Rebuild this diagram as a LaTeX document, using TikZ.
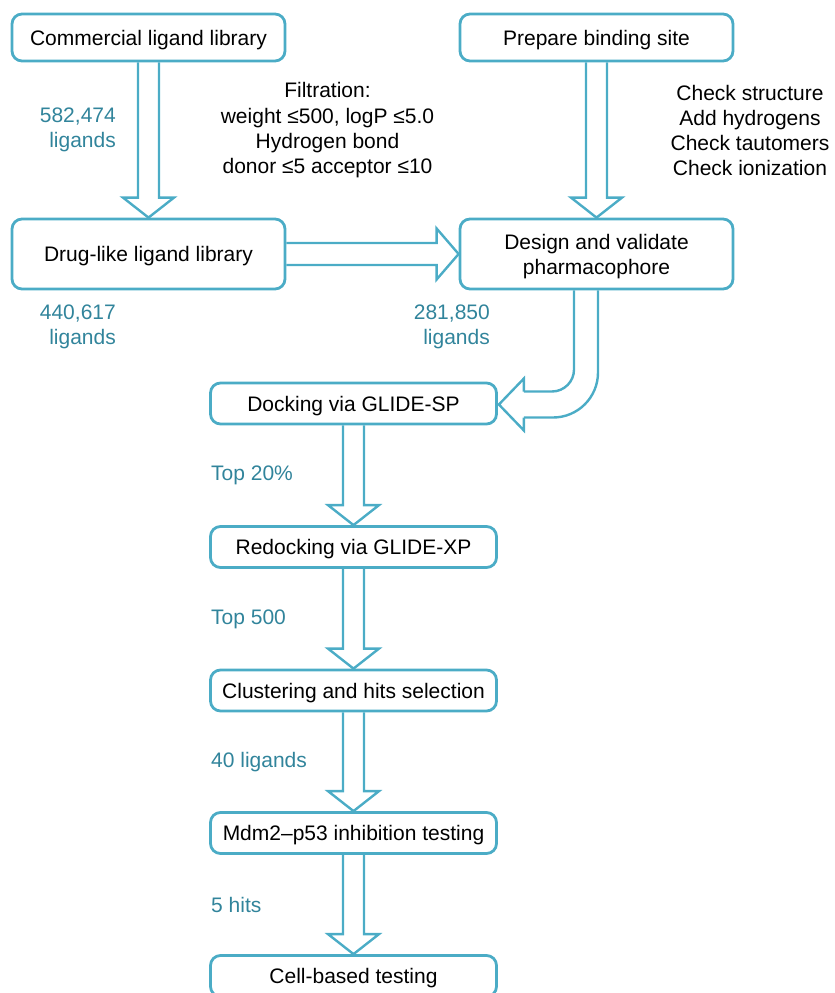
\documentclass[tikz,border=0pt]{standalone}
\usepackage{fontspec}
\setmainfont{Liberation Sans}
\usetikzlibrary{calc}

\definecolor{boxblue}{RGB}{75,172,198}
\definecolor{labelteal}{RGB}{49,132,155}

\newcommand{\hollowdown}[2]{%
  \draw[flow line] ($(#1.south)+(-10.5,0)$) -- ($(#1.south |- #2.north)+(-10.5,-20)$)
    -- ++(-15,0) -- (#1.south |- #2.north) -- ($(#1.south |- #2.north)+(25.5,-20)$)
    -- ++(-15,0) -- ($(#1.south)+(10.5,0)$);}

\begin{document}
\begin{tikzpicture}[x=1pt,y=-1pt,font=\fontsize{21}{25.3}\selectfont,
                    main box/.style={draw=boxblue,line width=2.8pt,rounded corners=10pt,
                      align=center,inner sep=0pt,minimum width=273pt,minimum height=47pt,
                      text height=15pt,text depth=0pt},
                    step box/.style={main box,minimum width=286pt,minimum height=41pt},
                    flow line/.style={draw=boxblue,line width=2.4pt},
                    count/.style={text=labelteal,align=right,inner sep=0pt},
                    note/.style={align=center,inner sep=0pt}]
  \useasboundingbox (0,0) rectangle (835,993);

  \node[main box] (commercial) at (148.5,37.5) {Commercial ligand library};
  \node[main box] (prepare) at (596.5,37.5) {Prepare binding site};
  \node[main box,minimum height=70pt] (druglike) at (148.5,254) {Drug-like ligand library};
  \node[main box,minimum height=70pt,text height=,text depth=] (pharma) at (596.5,254)
    {\raisebox{-3pt}[\height][\depth]{\begin{tabular}{@{}c@{}}Design and validate\\pharmacophore\end{tabular}}};
  \node[step box] (glidesp) at (353.5,403.5) {Docking via GLIDE-SP};
  \node[step box] (glidexp) at (353.5,547) {Redocking via GLIDE-XP};
  \node[step box] (cluster) at (353.5,690.5) {Clustering and hits selection};
  \node[step box] (mdm) at (353.5,833) {Mdm2–p53 inhibition testing};
  \node[step box] (cellbased) at (353.5,976) {Cell-based testing};

  \node[count,anchor=east] (n582) at (116,129.5) {582,474\\ligands};
  \node[count,anchor=east] (n440) at (116,327) {440,617\\ligands};
  \node[count,anchor=east] (n281) at (490,327) {281,850\\ligands};
  \node[count,anchor=west] (top20) at (211,475) {Top 20\%};
  \node[count,anchor=west] (top500) at (211,619) {Top 500};
  \node[count,anchor=west] (n40) at (211,762) {40 ligands};
  \node[count,anchor=west] (n5) at (211,905) {5 hits};

  \node[note] (filter) at (327.5,130.5) {Filtration:\\weight ≤500, logP ≤5.0\\Hydrogen bond\\donor ≤5 acceptor ≤10};
  \node[note] (checks) at (750,130.5) {Check structure\\Add hydrogens\\Check tautomers\\Check ionization};

  \hollowdown{commercial}{druglike}
  \hollowdown{prepare}{pharma}
  \hollowdown{glidesp}{glidexp}
  \hollowdown{glidexp}{cluster}
  \hollowdown{cluster}{mdm}
  \hollowdown{mdm}{cellbased}

  \draw[flow line] ($(druglike.east)+(0,-11)$) -- ($(pharma.west)+(-22,-11)$) -- ++(0,-14.5)
    -- (pharma.west) -- ($(pharma.west)+(-22,25.5)$) -- ++(0,-14.5) -- ($(druglike.east)+(0,11)$);

  % bent arrow into docking
  \draw[flow line,rounded corners=22pt] ($(pharma.south)+(-22.5,0)$) |- ($(glidesp.east)+(26,-12)$);
  \draw[flow line,rounded corners=45pt] ($(pharma.south)+(1.5,0)$) |- ($(glidesp.east)+(26,14)$);
  \draw[flow line] ($(glidesp.east)+(26,-12)$) -- ++(0,-13) -- ($(glidesp.east)+(1,1)$)
    -- ($(glidesp.east)+(26,27)$) -- ++(0,-13);
\end{tikzpicture}
\end{document}
